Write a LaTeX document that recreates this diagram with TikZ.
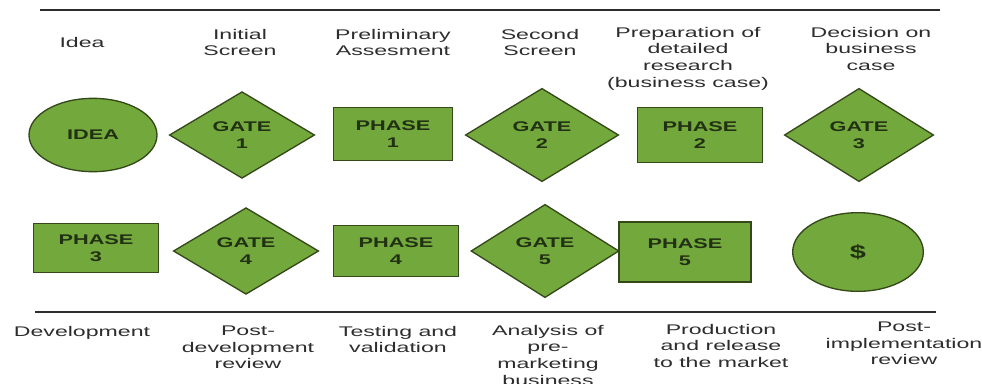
\documentclass[tikz,border=0pt]{standalone}
\usepackage{xcolor}
\usepackage{tikz}
\usepackage{fontspec}
\usetikzlibrary{shapes}
\usetikzlibrary{shapes.geometric}
\usetikzlibrary{positioning}

\newfontfamily\labelfont[FakeStretch=1.65]{Liberation Sans}
\newfontfamily\shapefont[FakeStretch=1.55]{Liberation Sans}

\definecolor{stagegreen}{RGB}{114,168,60}
\definecolor{stageedge}{RGB}{52,72,26}
\definecolor{stagetext}{RGB}{34,48,20}
\definecolor{labelgray}{RGB}{45,45,45}

\begin{document}
\begin{tikzpicture}[x=0.75pt, y=-0.75pt,
    stage/.style={draw=stageedge, fill=stagegreen, line width=1pt, inner sep=0pt,
      align=center, text=stagetext, font=\shapefont\bfseries\fontsize{10.5}{12.4}\selectfont},
    gate/.style={stage, diamond, minimum width=109pt, minimum height=65pt},
    phase/.style={stage, rectangle, minimum width=94pt, minimum height=38pt},
    goal/.style={stage, ellipse, minimum width=96pt, minimum height=55pt},
    caption/.style={align=center, text=labelgray, inner sep=0pt,
      font=\labelfont\fontsize{10.5}{12.4}\selectfont},
    rule/.style={draw=labelgray, line width=1.8pt}]
      \useasboundingbox (0,0) rectangle (982,383);

      % top row
      \node[goal]  (idea)   at (93,135)  {IDEA};
      \node[gate]  (gate_1) at (242,135) {GATE\\1};
      \node[phase, minimum width=89pt, minimum height=40pt] (phase_1) at (393,134) {PHASE\\1};
      \node[gate, minimum width=115pt, minimum height=70pt] (gate_2) at (542,135) {GATE\\2};
      \node[phase, minimum height=41pt] (phase_2) at (700,135) {PHASE\\2};
      \node[gate, minimum width=112pt, minimum height=70pt] (gate_3) at (859,135) {GATE\\3};

      % bottom row
      \node[phase, minimum height=37pt] (phase_3) at (96,248)  {PHASE\\3};
      \node[gate]  (gate_4)  at (246,251) {GATE\\4};
      \node[phase] (phase_4) at (396,251) {PHASE\\4};
      \node[gate, minimum width=111pt, minimum height=70pt] (gate_5) at (545,251) {GATE\\5};
      \node[phase, minimum width=99pt, minimum height=45pt] (phase_5) at (685,252) {PHASE\\5};
      \node[goal, minimum width=98pt, minimum height=59pt,
            font=\shapefont\bfseries\fontsize{14}{16}\selectfont] (money) at (858,252) {\$};

      % rules
      \coordinate (top_l) at (40,10);
      \coordinate (top_r) at (940,10);
      \coordinate (bot_l) at (35,312);
      \coordinate (bot_r) at (936,312);
      \draw[rule] (top_l) -- (top_r);
      \draw[rule] (bot_l) -- (bot_r);

      % captions above
      \node[caption]              (c_idea)   at (82,42)  {Idea};
      \node[caption, anchor=north] (c_gate_1) at (240,29) {Initial\\Screen};
      \node[caption, anchor=north] (c_phase_1) at (393,29) {Preliminary\\Assesment};
      \node[caption, anchor=north] (c_gate_2) at (540,29) {Second\\Screen};
      \node[caption, anchor=north] (c_phase_2) at (688,27) {Preparation of\\detailed\\research\\(business case)};
      \node[caption, anchor=north] (c_gate_3) at (871,27) {Decision on\\business\\case};

      % captions below
      \node[caption, anchor=north] (c_phase_3) at (82,326) {Development};
      \node[caption, anchor=north] (c_gate_4)  at (248,326) {Post-\\development\\review};
      \node[caption, anchor=north] (c_phase_4) at (398,326) {Testing and\\validation};
      \node[caption, anchor=north] (c_gate_5)  at (548,325) {Analysis of\\pre-\\marketing\\business};
      \node[caption, anchor=north] (c_phase_5) at (721,324) {Production\\and release\\to the market};
      \node[caption, anchor=north] (c_money)   at (904,322) {Post-\\implementation\\review};
\end{tikzpicture}
\end{document}
